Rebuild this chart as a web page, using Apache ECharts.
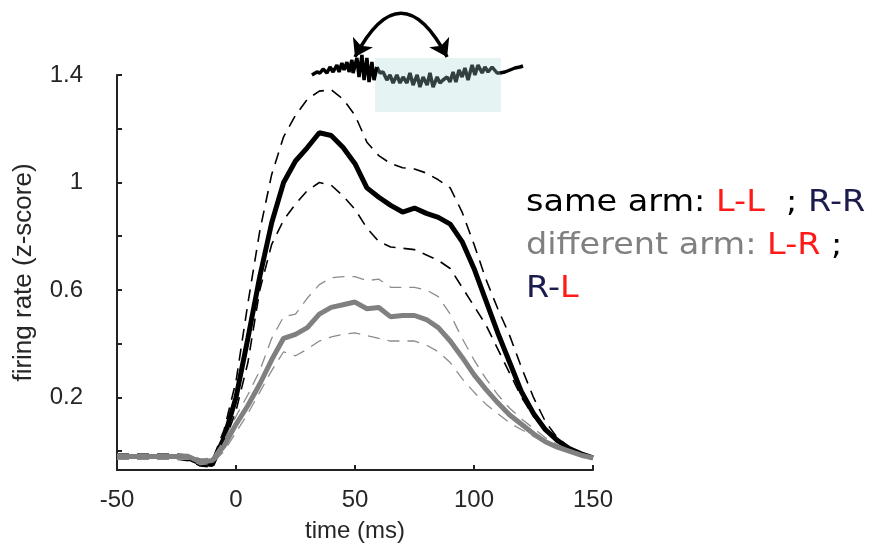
<!DOCTYPE html>
<html>
<head>
<meta charset="utf-8">
<script src="https://cdn.jsdelivr.net/npm/echarts@6/dist/echarts.min.js"></script>
<style>
  html, body { margin: 0; padding: 0; background: #fff; }
  #chart { width: 876px; height: 548px; }
</style>
</head>
<body>
<div id="chart"></div>
<script>
// time bins (ms)
const times = [-50, -45, -40, -35, -30, -25, -20, -15, -10, -5, 0, 5, 10, 15, 20, 25, 30, 35, 40, 45, 50,
  55, 60, 65, 70, 75, 80, 85, 90, 95, 100, 105, 110, 115, 120, 125, 130, 135, 140, 145, 150];

// same arm (black)
const sameMean = [-0.02, -0.02, -0.02, -0.02, -0.02, -0.02, -0.025, -0.045, -0.05, 0.05, 0.2, 0.42, 0.65, 0.85, 1.0, 1.08, 1.13, 1.185, 1.175, 1.13, 1.07,
  0.98, 0.945, 0.915, 0.89, 0.905, 0.885, 0.87, 0.845, 0.78, 0.68, 0.56, 0.44, 0.33, 0.22, 0.14, 0.08, 0.04, 0.01, -0.01, -0.025];
const sameUpper = [-0.01, -0.01, -0.01, -0.01, -0.01, -0.01, -0.015, -0.03, -0.035, 0.08, 0.26, 0.55, 0.82, 1.03, 1.17, 1.25, 1.31, 1.34, 1.345, 1.31, 1.25,
  1.15, 1.1, 1.07, 1.055, 1.05, 1.035, 1.01, 0.98, 0.89, 0.77, 0.64, 0.53, 0.43, 0.31, 0.2, 0.11, 0.05, 0.015, -0.005, -0.02];
const sameLower = [-0.03, -0.03, -0.03, -0.03, -0.03, -0.03, -0.035, -0.055, -0.06, 0.03, 0.15, 0.33, 0.6, 0.77, 0.86, 0.92, 0.97, 1.0, 0.99, 0.95, 0.9,
  0.83, 0.78, 0.76, 0.755, 0.75, 0.73, 0.71, 0.68, 0.61, 0.54, 0.47, 0.38, 0.29, 0.2, 0.13, 0.08, 0.035, 0.005, -0.015, -0.03];

// different arm (grey)
const diffMean = [-0.02, -0.02, -0.02, -0.02, -0.02, -0.02, -0.02, -0.04, -0.035, 0.02, 0.1, 0.17, 0.25, 0.34, 0.42, 0.435, 0.46, 0.51, 0.535, 0.545, 0.555,
  0.53, 0.535, 0.5, 0.505, 0.505, 0.49, 0.46, 0.41, 0.35, 0.285, 0.23, 0.18, 0.135, 0.1, 0.065, 0.035, 0.015, 0, -0.015, -0.025];
const diffUpper = [-0.01, -0.01, -0.01, -0.01, -0.01, -0.01, -0.012, -0.03, -0.025, 0.04, 0.13, 0.21, 0.3, 0.42, 0.5, 0.51, 0.57, 0.62, 0.645, 0.65, 0.65,
  0.635, 0.64, 0.61, 0.61, 0.61, 0.6, 0.575, 0.51, 0.42, 0.34, 0.27, 0.21, 0.16, 0.12, 0.085, 0.05, 0.025, 0.005, -0.01, -0.02];
const diffLower = [-0.03, -0.03, -0.03, -0.03, -0.03, -0.03, -0.03, -0.05, -0.045, 0.0, 0.07, 0.14, 0.22, 0.3, 0.37, 0.355, 0.38, 0.41, 0.425, 0.435, 0.44,
  0.43, 0.42, 0.41, 0.41, 0.41, 0.395, 0.37, 0.33, 0.27, 0.22, 0.175, 0.14, 0.105, 0.08, 0.055, 0.03, 0.01, -0.005, -0.015, -0.025];

// axis ticks / labels
const yLabelValues = [0.2, 0.6, 1, 1.4];
const yTickValues = [0, 0.2, 0.4, 0.6, 0.8, 1.0, 1.2, 1.4];

// inset trace (time in ms, amplitude in arbitrary units)
const traceHeadT = [31.9, 34.0, 35.3, 36.6, 38.2, 39.5, 40.8, 42.4, 43.3, 44.5, 45.4, 46.6, 47.5, 48.7, 49.2, 50.8, 51.7, 52.9, 53.8, 55.0, 55.9, 57.1, 58.0, 59.2];
const traceHeadA = [-15, -12, -13, -9, -13, -7, -12, -5, -12, -3, -10, -2, -12, 0, -13, 2, -17, 5, -20, 2, -22, -2, -20, -7];
const traceMidT = [59.2, 60.5, 61.8, 63.4, 64.7, 66.0, 67.6, 68.9, 70.2, 71.8, 73.1, 74.4, 76.1, 77.3, 78.6, 80.3, 81.5, 82.8, 84.5, 85.7, 87.0, 88.7,
  89.9, 91.2, 92.4, 93.7, 95.0, 96.2, 97.5, 99.2, 100.4, 101.7, 103.4, 104.6, 105.9, 107.6, 109.7, 110.9];
const traceMidA = [-7, -13, -12, -20, -15, -23, -15, -23, -17, -23, -13, -25, -15, -27, -17, -25, -13, -27, -17, -23, -20, -17,
  -22, -12, -22, -10, -17, -8, -20, -5, -15, -5, -13, -7, -12, -7, -13, -13];
const traceTailT = [110.9, 113.0, 115.1, 117.2, 119.3, 120.6];
const traceTailA = [-13, -12, -10, -8, -7, -6];
const shadedSpan = [58.4, 111.3];
const shadedAmp = [2, -52];
const arrowEnds = [[50.0, 3], [88.7, 3]];

const pairs = (xs, ys) => xs.map((x, i) => [x, ys[i]]);

const chart = echarts.init(document.getElementById('chart'));

const axisFont = { fontFamily: 'Liberation Sans, Arial, sans-serif', fontSize: 24, color: '#262626' };
const axisLine = { show: true, onZero: false, lineStyle: { color: '#222', width: 2 } };

const option = {
  animation: false,
  backgroundColor: '#fff',
  grid: [
    { left: 117, right: 283, top: 75, bottom: 76 },
    { left: 117, right: 283, top: 0, height: 120 }
  ],
  xAxis: [
    {
      type: 'value', gridIndex: 0,
      min: -50, max: 150, interval: 50,
      axisLine: axisLine,
      axisTick: { show: true, inside: true, length: 5, lineStyle: { color: '#222', width: 2 } },
      axisLabel: Object.assign({ margin: 18 }, axisFont),
      splitLine: { show: false },
      name: 'time (ms)', nameLocation: 'middle', nameGap: 49,
      nameTextStyle: axisFont
    },
    { type: 'value', gridIndex: 1, min: -50, max: 150, show: false }
  ],
  yAxis: [
    {
      type: 'value', gridIndex: 0,
      min: -0.07, max: 1.4,
      axisLine: axisLine,
      axisTick: { show: true, inside: true, length: 5, customValues: yTickValues, lineStyle: { color: '#222', width: 2 } },
      axisLabel: Object.assign({ margin: 34, customValues: yLabelValues }, axisFont),
      splitLine: { show: false },
      name: 'firing rate (z-score)', nameLocation: 'middle', nameGap: 80,
      nameTextStyle: Object.assign({}, axisFont, { fontSize: 26 })
    },
    { type: 'value', gridIndex: 1, min: -60, max: 60, show: false }
  ],
  series: [
    // same arm: CI dashed + mean
    { type: 'line', data: pairs(times, sameUpper), showSymbol: false, lineStyle: { color: '#000', width: 1.6, type: [12, 8] }, z: 2 },
    { type: 'line', data: pairs(times, sameLower), showSymbol: false, lineStyle: { color: '#000', width: 1.6, type: [12, 8] }, z: 2 },
    { type: 'line', data: pairs(times, sameMean), showSymbol: false, lineStyle: { color: '#000', width: 5 }, z: 3 },
    // different arm
    { type: 'line', data: pairs(times, diffUpper), showSymbol: false, lineStyle: { color: '#8c8c8c', width: 1.3, type: [12, 8] }, z: 4 },
    { type: 'line', data: pairs(times, diffLower), showSymbol: false, lineStyle: { color: '#8c8c8c', width: 1.3, type: [12, 8] }, z: 4 },
    { type: 'line', data: pairs(times, diffMean), showSymbol: false, lineStyle: { color: '#808080', width: 5 }, z: 5 },
    // inset trace
    {
      type: 'line', xAxisIndex: 1, yAxisIndex: 1, data: pairs(traceMidT, traceMidA), showSymbol: false,
      lineStyle: { color: '#34403f', width: 3.5 }, z: 6,
      markArea: {
        silent: true,
        itemStyle: { color: '#e6f3f3' },
        data: [[{ coord: [shadedSpan[0], shadedAmp[0]] }, { coord: [shadedSpan[1], shadedAmp[1]] }]]
      }
    },
    { type: 'line', xAxisIndex: 1, yAxisIndex: 1, data: pairs(traceHeadT, traceHeadA), showSymbol: false, lineStyle: { color: '#000', width: 3.5 }, z: 7 },
    { type: 'line', xAxisIndex: 1, yAxisIndex: 1, data: pairs(traceTailT, traceTailA), showSymbol: false, lineStyle: { color: '#000', width: 3.5 }, z: 7 },
    {
      type: 'lines', coordinateSystem: 'cartesian2d', xAxisIndex: 1, yAxisIndex: 1,
      symbol: ['arrow', 'arrow'], symbolSize: 17,
      lineStyle: { color: '#000', width: 3.5, curveness: 0.95, opacity: 1 },
      data: [{ coords: arrowEnds }], z: 8
    }
  ],
  graphic: [
    {
      type: 'text', x: 526, y: 181, scaleX: 1.08, z: 10,
      style: {
        text: '{k|same arm: }{r|L-L}{k|  ; }{b|R-R}\n{g|different arm: }{r|L-R}{k| ;}\n{b|R-}{r|L}',
        fontFamily: 'DejaVu Sans', fontSize: 31, lineHeight: 43,
        rich: {
          k: { fill: '#000', fontFamily: 'DejaVu Sans', fontSize: 31, lineHeight: 43 },
          r: { fill: '#ff1a1a', fontFamily: 'DejaVu Sans', fontSize: 31, lineHeight: 43 },
          b: { fill: '#1b1b4d', fontFamily: 'DejaVu Sans', fontSize: 31, lineHeight: 43 },
          g: { fill: '#808080', fontFamily: 'DejaVu Sans', fontSize: 31, lineHeight: 43 }
        }
      }
    }
  ]
};

chart.setOption(option);
</script>
</body>
</html>
